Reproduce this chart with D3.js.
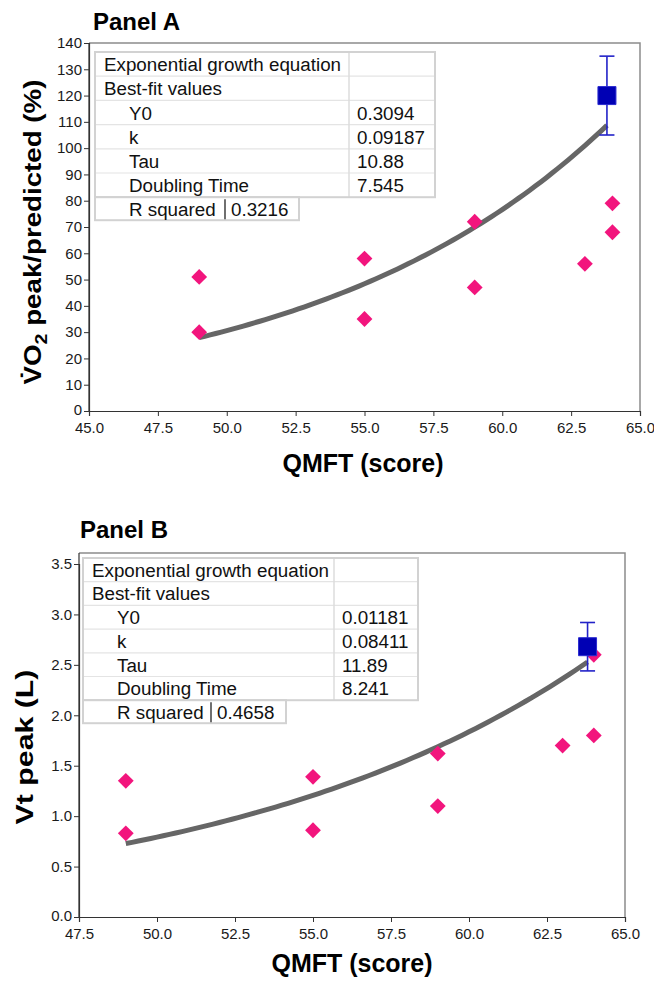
<!DOCTYPE html>
<html>
<head>
<meta charset="utf-8">
<script src="https://cdn.jsdelivr.net/npm/d3@7"></script>
<style>
  body { margin: 0; background: #fff; }
  svg { display: block; }
  text { font-family: "Liberation Sans", Arial, sans-serif; }
</style>
</head>
<body>
<svg id="chart" width="654" height="982"></svg>
<script>
// ---- panel A : VO2 peak/predicted vs QMFT
const qmftA = [49, 49, 55, 55, 59, 59, 63, 64, 64]
const vo2A = [51, 30, 58, 35, 72, 47, 56, 79, 68]
const meanA = [63.8, 120]
const errA = [105, 135]
const fitValuesA = ['0.3094', '0.09187', '10.88', '7.545']
const rSquaredA = '0.3216'
const xTicksA = [45, 47.5, 50, 52.5, 55, 57.5, 60, 62.5, 65]
const yTicksA = [0, 10, 20, 30, 40, 50, 60, 70, 80, 90, 100, 110, 120, 130, 140]

// ---- panel B : Vt peak vs QMFT
const qmftB = [49, 49, 55, 55, 59, 59, 63, 64, 64]
const vtB = [1.35, 0.83, 1.39, 0.86, 1.62, 1.10, 1.70, 1.80, 2.60]
const meanB = [63.8, 2.68]
const errB = [2.44, 2.92]
const fitValuesB = ['0.01181', '0.08411', '11.89', '8.241']
const rSquaredB = '0.4658'
const xTicksB = [47.5, 50, 52.5, 55, 57.5, 60, 62.5, 65]
const yTicksB = [0, 0.5, 1, 1.5, 2, 2.5, 3, 3.5]

// fit table row names (shared)
const fitRowNames = ['Y0', 'k', 'Tau', 'Doubling Time']

const svg = d3.select('#chart')

function drawPanel(o) {
  const x = d3.scaleLinear().domain(o.xDomain).range([o.left, o.right])
  const y = d3.scaleLinear().domain(o.yDomain).range([o.bottom, o.yTop])

  // title
  svg.append('text')
    .attr('x', o.titleX).attr('y', o.titleY)
    .attr('font-size', 24).attr('font-weight', 'bold')
    .text(o.title)

  // frame (top + right)
  svg.append('path')
    .attr('d', `M${o.left},${o.frameTop}H${o.right}V${o.bottom}`)
    .attr('fill', 'none').attr('stroke', '#8c8c8c').attr('stroke-width', 1.5)

  // left axis line up to frame top
  svg.append('line')
    .attr('x1', o.left).attr('x2', o.left)
    .attr('y1', o.frameTop).attr('y2', o.bottom)
    .attr('stroke', '#333').attr('stroke-width', 1.2)

  const gx = svg.append('g')
    .attr('transform', `translate(0,${o.bottom})`)
    .call(d3.axisBottom(x).tickValues(o.xTicks).tickFormat(d3.format('.1f')).tickSize(5).tickPadding(6))
  const gy = svg.append('g')
    .attr('transform', `translate(${o.left},0)`)
    .call(d3.axisLeft(y).tickValues(o.yTicks).tickFormat(d3.format(o.yFormat)).tickSize(5).tickPadding(2))

  ;[gx, gy].forEach((g) => {
    g.select('.domain').attr('stroke', '#333').attr('stroke-width', 1.2)
    g.selectAll('.tick line').attr('stroke', '#333')
    g.selectAll('.tick text')
      .attr('fill', '#1a1a1a')
      .attr('font-size', 15)
      .attr('font-family', '"Liberation Sans", Arial, sans-serif')
  })
  // lift the bottom y label a little so it clears the first x label
  gy.selectAll('.tick text').filter((d) => d === 0).attr('dy', '0.2em')

  // axis titles
  svg.append('text')
    .attr('x', o.xLabelX).attr('y', o.xLabelY)
    .attr('text-anchor', 'middle')
    .attr('font-size', 25).attr('font-weight', 'bold')
    .text('QMFT (score)')

  const yl = svg.append('text')
    .attr('text-anchor', 'middle')
    .attr('font-size', 24).attr('font-weight', 'bold')
  o.yLabel(yl)
  const natural = yl.node().getComputedTextLength()
  yl.attr('transform', `translate(${o.yLabelX},${o.yLabelY}) rotate(-90) scale(${o.yLabelLen / natural},1)`)

  // fit table
  const t = o.table
  const rows = [['Exponential growth equation', '', 0], ['Best-fit values', '', 0]]
    .concat(fitRowNames.map((n, i) => [n, o.fitValues[i], 1]))
  const tg = svg.append('g')
  const tH = t.rowH * rows.length
  tg.append('rect')
    .attr('x', t.x).attr('y', t.y).attr('width', t.w).attr('height', tH)
    .attr('fill', '#fff')
  rows.forEach((r, i) => {
    if (i > 0) {
      tg.append('line')
        .attr('x1', t.x).attr('x2', t.x + t.w)
        .attr('y1', t.y + i * t.rowH).attr('y2', t.y + i * t.rowH)
        .attr('stroke', '#e4e4e4').attr('stroke-width', 1.2)
    }
    tg.append('text')
      .attr('x', t.x + (r[2] ? 34 : 9))
      .attr('y', t.y + i * t.rowH + t.rowH * 0.79)
      .attr('font-size', 18.8).attr('fill', '#111')
      .text(r[0])
    tg.append('text')
      .attr('x', t.x + t.col + 8)
      .attr('y', t.y + i * t.rowH + t.rowH * 0.79)
      .attr('font-size', 18.8).attr('fill', '#111')
      .text(r[1])
  })
  tg.append('line')
    .attr('x1', t.x + t.col).attr('x2', t.x + t.col)
    .attr('y1', t.y).attr('y2', t.y + tH)
    .attr('stroke', '#dcdcdc').attr('stroke-width', 1.5)
  tg.append('rect')
    .attr('x', t.x).attr('y', t.y).attr('width', t.w).attr('height', tH)
    .attr('fill', 'none').attr('stroke', '#d2d2d2').attr('stroke-width', 2)

  // R squared box
  const rb = tg.append('g')
  rb.append('rect')
    .attr('x', t.x).attr('y', t.y + tH).attr('width', t.rw).attr('height', 23)
    .attr('fill', '#fff').attr('stroke', '#d2d2d2').attr('stroke-width', 2)
  rb.append('line')
    .attr('x1', t.x + t.rdiv).attr('x2', t.x + t.rdiv)
    .attr('y1', t.y + tH + 2).attr('y2', t.y + tH + 22)
    .attr('stroke', '#222').attr('stroke-width', 1.3)
  rb.append('text')
    .attr('x', t.x + 34).attr('y', t.y + tH + 18.5)
    .attr('font-size', 18.8).attr('fill', '#111')
    .text('R squared')
  rb.append('text')
    .attr('x', t.x + t.rdiv + 6).attr('y', t.y + tH + 18.5)
    .attr('font-size', 18.8).attr('fill', '#111')
    .text(o.rSquared)

  // fitted exponential curve Y = Y0 * exp(k X)
  const y0 = +o.fitValues[0]
  const k = +o.fitValues[1]
  const xs = d3.range(49, o.mean[0] + 0.001, 0.2)
  svg.append('path')
    .datum(xs)
    .attr('d', d3.line().x((d) => x(d)).y((d) => y(y0 * Math.exp(k * d))))
    .attr('fill', 'none').attr('stroke', '#666').attr('stroke-width', 5)

  // individual points
  const diamond = d3.symbol().type(d3.symbolSquare).size(125)
  svg.append('g')
    .selectAll('path')
    .data(o.xs.map((d, i) => [d, o.ys[i]]))
    .join('path')
    .attr('d', diamond)
    .attr('transform', (d) => `translate(${x(d[0])},${y(d[1])}) rotate(45)`)
    .attr('fill', '#f2157d')

  // group mean with error bar
  const mx = x(o.mean[0])
  const eg = svg.append('g').attr('stroke', '#2222c8').attr('stroke-width', 1.6)
  eg.append('line').attr('x1', mx).attr('x2', mx).attr('y1', y(o.err[0])).attr('y2', y(o.err[1]))
  o.err.forEach((e) => {
    eg.append('line').attr('x1', mx - 7.5).attr('x2', mx + 7.5).attr('y1', y(e)).attr('y2', y(e))
  })
  svg.append('path')
    .attr('d', d3.symbol().type(d3.symbolSquare).size(324))
    .attr('transform', `translate(${mx},${y(o.mean[1])})`)
    .attr('fill', '#0000b4').attr('stroke', '#2a2ad0').attr('stroke-width', 1)
}

drawPanel({
  title: 'Panel A', titleX: 93, titleY: 30,
  xDomain: [45, 65], yDomain: [0, 140],
  left: 89, right: 640, bottom: 411, yTop: 43, frameTop: 43,
  xTicks: xTicksA, yTicks: yTicksA, yFormat: 'd',
  xLabelX: 363, xLabelY: 472,
  yLabel: (t) => {
    t.append('tspan').text('V\u0307O')
    t.append('tspan').attr('font-size', 17).attr('dy', 6).text('2')
    t.append('tspan').attr('dy', -6).text(' peak/predicted (%)')
  },
  yLabelX: 41, yLabelY: 232, yLabelLen: 305,
  table: { x: 95, y: 52, w: 340, col: 254, rowH: 24.2, rw: 204, rdiv: 130 },
  fitValues: fitValuesA, rSquared: rSquaredA,
  xs: qmftA, ys: vo2A, mean: meanA, err: errA
})

drawPanel({
  title: 'Panel B', titleX: 80, titleY: 538,
  xDomain: [47.5, 65], yDomain: [0, 3.5],
  left: 79, right: 625, bottom: 917, yTop: 564, frameTop: 553,
  xTicks: xTicksB, yTicks: yTicksB, yFormat: '.1f',
  xLabelX: 352, xLabelY: 972,
  yLabel: (t) => { t.text('Vt peak (L)') },
  yLabelX: 33, yLabelY: 747, yLabelLen: 155,
  table: { x: 83, y: 558, w: 335, col: 251, rowH: 23.7, rw: 203, rdiv: 128 },
  fitValues: fitValuesB, rSquared: rSquaredB,
  xs: qmftB, ys: vtB, mean: meanB, err: errB
})
</script>
</body>
</html>
